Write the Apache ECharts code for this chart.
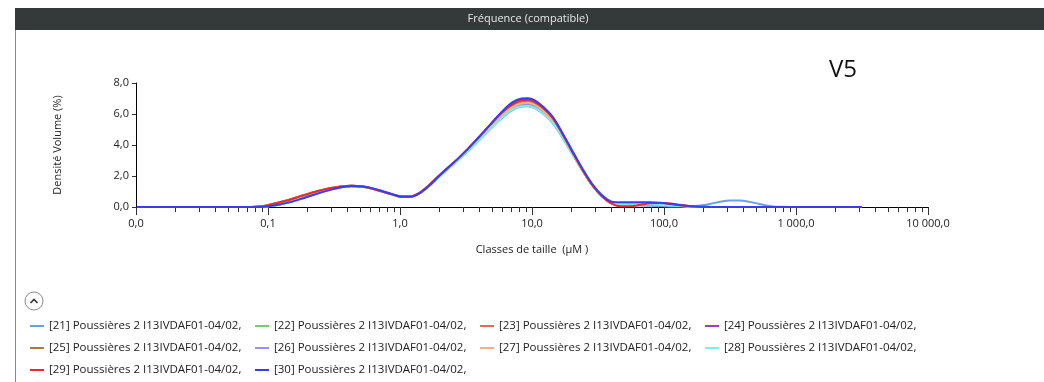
<!DOCTYPE html>
<html><head><meta charset="utf-8">
<script src="https://cdn.jsdelivr.net/npm/echarts@6/dist/echarts.min.js"></script>
<style>html,body{margin:0;padding:0;background:#fff}#c{width:1044px;height:382px}</style>
</head><body><div id="c"></div>
<script>
const sizes = [0.0102,0.04,0.075,0.09,0.1,0.12,0.15,0.19,0.24,0.3,0.36,0.43,0.52,0.62,0.74,0.88,1.03,1.2,1.4,1.65,1.95,2.3,2.75,3.3,4.0,4.8,5.8,7.0,8.3,9.3,10.5,12.2,14.4,17,20,24,28.5,34,40,47,56,66,79,94,112,133,158,188,224,266,316,376,447,532,632,752,1000,3150];

const names = ['[21] Poussières 2 I13IVDAF01-04/02,','[22] Poussières 2 I13IVDAF01-04/02,','[23] Poussières 2 I13IVDAF01-04/02,','[24] Poussières 2 I13IVDAF01-04/02,','[25] Poussières 2 I13IVDAF01-04/02,','[26] Poussières 2 I13IVDAF01-04/02,','[27] Poussières 2 I13IVDAF01-04/02,','[28] Poussières 2 I13IVDAF01-04/02,','[29] Poussières 2 I13IVDAF01-04/02,','[30] Poussières 2 I13IVDAF01-04/02,'];

const s21 = [0,0,0,0,0.04,0.15,0.34,0.62,0.9,1.14,1.28,1.35,1.32,1.19,1.0,0.8,0.65,0.66,0.88,1.33,1.9,2.44,3.02,3.62,4.32,5.0,5.68,6.22,6.48,6.5,6.38,6.0,5.4,4.48,3.48,2.38,1.45,0.74,0.32,0.15,0.1,0.1,0.08,0.06,0.04,0.03,0.04,0.09,0.2,0.34,0.42,0.42,0.33,0.19,0.07,0.01,0,0];
const s22 = [0,0,0,0.06,0.13,0.3,0.52,0.8,1.04,1.23,1.34,1.37,1.32,1.18,0.99,0.8,0.67,0.67,0.89,1.35,1.94,2.47,3.04,3.68,4.4,5.1,5.82,6.38,6.67,6.7,6.57,6.19,5.57,4.58,3.54,2.39,1.42,0.7,0.3,0.18,0.17,0.19,0.2,0.19,0.15,0.09,0.04,0.01,0,0,0,0,0,0,0,0,0,0];
const s23 = [0,0,0,0.05,0.12,0.28,0.5,0.78,1.03,1.22,1.33,1.37,1.32,1.18,0.99,0.8,0.67,0.68,0.9,1.37,1.96,2.5,3.08,3.74,4.48,5.2,5.93,6.5,6.8,6.82,6.68,6.28,5.65,4.64,3.58,2.4,1.42,0.68,0.24,0.08,0.1,0.18,0.25,0.26,0.22,0.14,0.06,0.02,0,0,0,0,0,0,0,0,0,0];
const s24 = [0,0,0,0.04,0.11,0.27,0.49,0.77,1.02,1.21,1.33,1.37,1.32,1.18,0.99,0.8,0.67,0.68,0.9,1.37,1.97,2.52,3.1,3.77,4.52,5.24,5.98,6.57,6.87,6.9,6.76,6.35,5.7,4.68,3.6,2.42,1.43,0.7,0.28,0.15,0.15,0.18,0.2,0.2,0.16,0.1,0.04,0.01,0,0,0,0,0,0,0,0,0,0];
const s25 = [0,0,0,0.05,0.12,0.28,0.5,0.78,1.02,1.21,1.33,1.36,1.31,1.17,0.98,0.79,0.66,0.67,0.89,1.36,1.95,2.49,3.06,3.71,4.44,5.15,5.88,6.45,6.74,6.76,6.62,6.23,5.6,4.6,3.55,2.4,1.43,0.7,0.3,0.18,0.18,0.2,0.21,0.2,0.16,0.1,0.04,0.01,0,0,0,0,0,0,0,0,0,0];
const s26 = [0,0,0,0,0.04,0.15,0.33,0.6,0.88,1.12,1.27,1.34,1.32,1.2,1.01,0.81,0.66,0.66,0.88,1.34,1.92,2.47,3.05,3.67,4.38,5.07,5.77,6.32,6.58,6.6,6.47,6.08,5.48,4.52,3.5,2.4,1.45,0.73,0.34,0.22,0.2,0.2,0.2,0.18,0.14,0.08,0.03,0.01,0,0,0,0,0,0,0,0,0,0];
const s27 = [0,0,0,0.05,0.12,0.28,0.5,0.78,1.02,1.21,1.32,1.36,1.31,1.17,0.98,0.79,0.66,0.67,0.89,1.35,1.94,2.48,3.05,3.69,4.41,5.12,5.84,6.4,6.69,6.72,6.59,6.2,5.58,4.59,3.55,2.4,1.43,0.7,0.28,0.14,0.14,0.2,0.23,0.22,0.17,0.1,0.04,0.01,0,0,0,0,0,0,0,0,0,0];
const s28 = [0,0,0,0,0.04,0.15,0.34,0.61,0.89,1.13,1.28,1.35,1.32,1.2,1.01,0.81,0.66,0.66,0.88,1.33,1.91,2.45,3.03,3.64,4.34,5.02,5.7,6.25,6.5,6.52,6.4,6.02,5.43,4.5,3.49,2.39,1.45,0.74,0.34,0.2,0.18,0.17,0.16,0.14,0.1,0.06,0.02,0,0,0,0,0,0,0,0,0,0,0];
const s29 = [0,0,0,0.05,0.12,0.28,0.5,0.78,1.03,1.22,1.33,1.37,1.32,1.18,0.99,0.8,0.67,0.68,0.9,1.38,1.98,2.53,3.12,3.8,4.55,5.28,6.03,6.62,6.92,6.95,6.8,6.38,5.72,4.7,3.62,2.42,1.43,0.68,0.22,0.05,0.05,0.14,0.24,0.26,0.21,0.12,0.05,0.01,0,0,0,0,0,0,0,0,0,0];
const s30 = [0,0,0,0,0.04,0.15,0.33,0.6,0.88,1.12,1.27,1.34,1.32,1.2,1.02,0.82,0.66,0.66,0.88,1.35,1.95,2.52,3.12,3.78,4.55,5.3,6.07,6.72,7.0,7.02,6.88,6.45,5.8,4.78,3.7,2.5,1.5,0.75,0.34,0.3,0.3,0.3,0.3,0.27,0.2,0.12,0.05,0.01,0,0,0,0,0,0,0,0,0,0];

const majorTicks = [0.01,0.1,1,10,100,1000,10000];
const minorTicks = [];
for (let d = 0; d < majorTicks.length - 1; d++) {
  for (let k = 2; k <= 9; k++) minorTicks.push(majorTicks[d] * k);
}

const colors = ['#6a9fe0','#6ad46a','#e8685e','#a43cc0','#a87a3c','#9a90f4','#f8b080','#7eeee8','#f02828','#3a3cf0'];
const allSeries = [s21,s22,s23,s24,s25,s26,s27,s28,s29,s30];

function fmt(v){
  const p = Number(v).toFixed(1).split('.');
  return p[0].replace(/\B(?=(\d{3})+(?!\d))/g,' ') + ',' + p[1];
}

const FONT = '"Open Sans","Noto Sans",sans-serif';
const chart = echarts.init(document.getElementById('c'), null, {renderer:'canvas'});
chart.setOption({
  animation:false,
  color: colors,
  textStyle:{fontFamily:FONT},
  grid:{left:136,right:116,top:83,bottom:175,containLabel:false},
  xAxis:[{
    type:'log', logBase:10, min:0.01, max:10000,
    name:'Classes de taille  (µM )', nameLocation:'middle', nameGap:37,
    nameTextStyle:{fontSize:11,color:'#222',fontFamily:FONT},
    axisLine:{show:true,lineStyle:{color:'#000',width:1}},
    axisTick:{show:true,length:8,customValues:majorTicks,lineStyle:{color:'#333'}},
    axisLabel:{customValues:majorTicks,formatter:fmt,margin:11,fontSize:11,color:'#222',fontFamily:FONT},
    splitLine:{show:false}, minorTick:{show:false}
  },{
    type:'log', logBase:10, min:0.01, max:10000, gridIndex:0, position:'top', offset:-124,
    axisLine:{show:false},
    axisTick:{show:true,inside:true,length:5,customValues:minorTicks,lineStyle:{color:'#333'}},
    axisLabel:{show:false}, splitLine:{show:false}
  }],
  yAxis:{
    type:'value', min:0, max:8, interval:2,
    name:'Densité Volume (%)', nameLocation:'middle', nameGap:73,
    nameTextStyle:{fontSize:11,color:'#222',fontFamily:FONT},
    axisLine:{show:true,lineStyle:{color:'#000',width:1}},
    axisTick:{show:true,length:4,lineStyle:{color:'#333'}},
    axisLabel:{formatter:fmt,margin:7,fontSize:11,color:'#222',fontFamily:FONT},
    splitLine:{show:false}
  },
  legend:{
    left:30, top:320, width:900, padding:0, orient:'horizontal',
    itemWidth:14, itemHeight:2, itemGap:10, icon:'rect',
    textStyle:{fontSize:11.5,color:'#222',width:196,lineHeight:11.5,fontFamily:FONT},
    data:names
  },
  series: allSeries.map((s,i)=>({
    name:names[i], type:'line', xAxisIndex:0, smooth:0.35, showSymbol:false, symbol:'none',
    lineStyle:{width:2,color:colors[i]}, itemStyle:{color:colors[i]},
    data: sizes.map((x,j)=>[x,s[j]])
  })),
  graphic:[
    {type:'rect', shape:{x:15,y:8,width:1029,height:22}, style:{fill:'#343a3a'}, silent:true},
    {type:'text', x:528, y:19, style:{text:'Fréquence (compatible)', fill:'#e6e6e6', font:'11px '+FONT, align:'center', verticalAlign:'middle'}},
    {type:'line', shape:{x1:15.5,y1:30,x2:15.5,y2:382}, style:{stroke:'#888',lineWidth:1}},
    {type:'text', x:843, y:70, style:{text:'V5', fill:'#111', font:'24px '+FONT, align:'center', verticalAlign:'middle'}},
    {type:'circle', shape:{cx:34,cy:301,r:9}, style:{fill:'#fff',stroke:'#888',lineWidth:1}},
    {type:'polyline', shape:{points:[[30.5,303],[34,299.5],[37.5,303]]}, style:{stroke:'#333',lineWidth:1.6,fill:null}}
  ]
});
</script></body></html>
